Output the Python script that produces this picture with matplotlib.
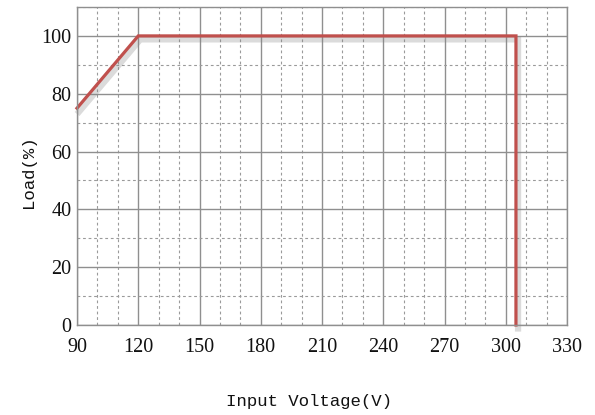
import matplotlib
matplotlib.use("Agg")
import matplotlib.pyplot as plt
import matplotlib.patheffects as pe
from matplotlib.ticker import MultipleLocator

voltage = [90, 120, 305, 305]
load = [75, 100, 100, 0]
x_ticks = [90, 120, 150, 180, 210, 240, 270, 300, 330]
y_ticks = [0, 20, 40, 60, 80, 100]

fig = plt.figure(figsize=(5.95, 4.15), dpi=100)
ax = fig.add_axes([77/595, 1-325/415, (567-77)/595, (325-7)/415])

ax.set_xlim(90, 330)
ax.set_ylim(0, 110)
ax.set_xticks(x_ticks)
ax.set_yticks(y_ticks)
ax.xaxis.set_minor_locator(MultipleLocator(10))
ax.yaxis.set_minor_locator(MultipleLocator(10))
ax.grid(which='major', color='#8f8f8f', linewidth=1.0, linestyle='-')
ax.grid(which='minor', color='#9a9a9a', linewidth=0.8, linestyle=(0, (2.5, 2.5)))
ax.set_axisbelow(True)
for s in ax.spines.values():
    s.set_color('#8f8f8f')
    s.set_linewidth(1.0)
ax.tick_params(which='both', length=0)
ax.tick_params(axis='x', pad=9)
ax.tick_params(axis='y', pad=4)
for lab in ax.get_xticklabels() + ax.get_yticklabels():
    lab.set_fontfamily('Liberation Serif')
    lab.set_fontsize(14.5)
    lab.set_color('#111111')

ax.plot(voltage, load, color='#c0504d', linewidth=2.3, clip_on=False,
        solid_joinstyle='miter',
        path_effects=[pe.SimpleLineShadow(offset=(1.5, -2.5), shadow_color='#888888', alpha=0.3, linewidth=4.5),
                      pe.Normal()])

fig.text(309/595, 1-401/415, 'Input Voltage(V)', ha='center', va='center',
         fontfamily='Liberation Mono', fontsize=12.5, color='#111111')
fig.text(28/595, 1-172/415, 'Load(%)', ha='center', va='center', rotation=90,
         fontfamily='Liberation Mono', fontsize=12.5, color='#111111')

fig.savefig('out.png', dpi=100, facecolor='white')
